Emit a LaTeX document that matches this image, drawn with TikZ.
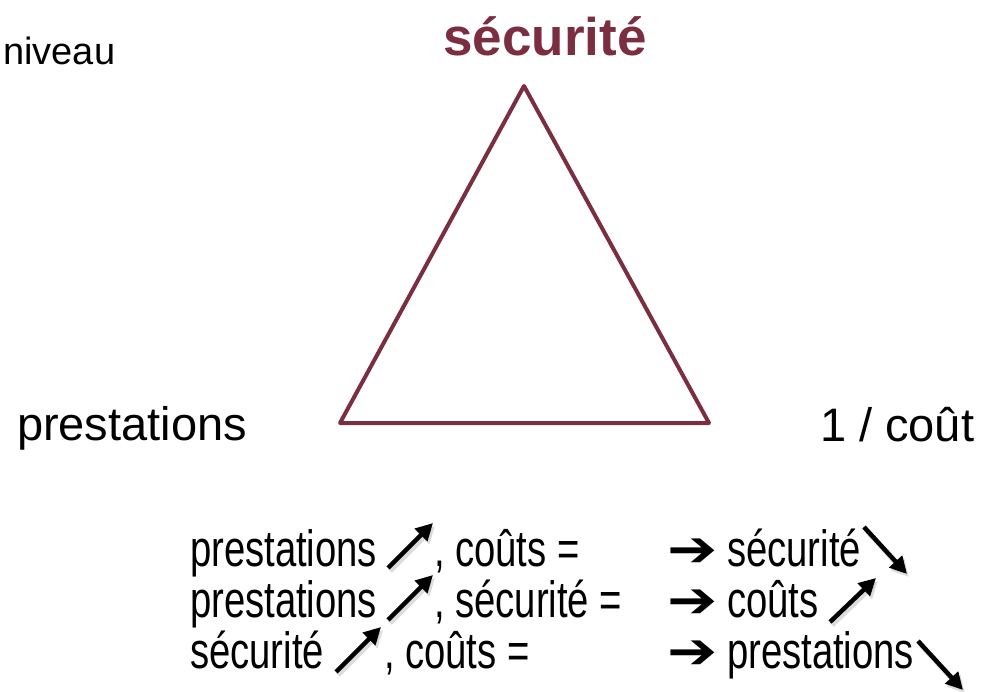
\documentclass[tikz,border=0pt]{standalone}
\usepackage{fontspec}
\setmainfont{Liberation Sans}
\newfontfamily\narrowfont[FakeStretch=0.75]{Liberation Sans}
\newfontfamily\dingfont[FakeStretch=1.2]{DejaVu Sans Bold}
\usetikzlibrary{arrows.meta}
\definecolor{maroon}{RGB}{122,46,64}
\tikzset{
  lbl/.style={inner sep=0pt, outer sep=0pt, anchor=base west, font=\fontsize{47}{54}\selectfont},
  nlbl/.style={inner sep=0pt, outer sep=0pt, anchor=base west, font=\narrowfont\fontsize{51}{54}\selectfont},
  dingl/.style={inner sep=0pt, outer sep=0pt, anchor=base west, font=\dingfont\fontsize{50}{54}\selectfont},
  trend/.style={line width=4.5pt, -{Triangle[length=17pt,width=17pt]}},
  trendshadow/.style={line width=5pt, draw=black!30, opacity=0.45, -{Triangle[length=17pt,width=17pt]}},
  tri/.style={draw=maroon, line width=4pt, line join=round}
}
\begin{document}
\begin{tikzpicture}[x=1pt,y=-1pt]
\useasboundingbox (0,0) rectangle (990,692);
% triangle
\coordinate (top) at (524,86);
\coordinate (bl) at (340,423);
\coordinate (br) at (709,423);
\draw[tri] (top) -- (bl) -- (br) -- cycle;
% corner labels
\node[inner sep=0pt, anchor=base, text=maroon, font=\bfseries\fontsize{53}{60}\selectfont] (title) at (545,56) {sécurité};
\node[inner sep=0pt, anchor=base west, font=\fontsize{38}{44}\selectfont] (niveau) at (3,65) {niveau};
\node[lbl] (prest) at (17,440) {prestations};
\node[lbl] (cout) at (820,441) {1 / coût};
% bottom lines
\node[nlbl] (l1a) at (190,566) {prestations};
\node[nlbl] (l1b) at (434,566) {, coûts =};
\node[dingl] (l1c) at (667,566) {➔};
\node[nlbl] (l1d) at (727,566) {sécurité};
\node[nlbl] (l2a) at (190,617) {prestations};
\node[nlbl] (l2b) at (434,617) {, sécurité =};
\node[dingl] (l2c) at (667,617) {➔};
\node[nlbl] (l2d) at (727,617) {coûts};
\node[nlbl] (l3a) at (190,668) {sécurité};
\node[nlbl] (l3b) at (384,668) {, coûts =};
\node[dingl] (l3c) at (667,668) {➔};
\node[nlbl] (l3d) at (727,668) {prestations};
% trend arrows
\coordinate (a1s) at (388,568); \coordinate (a1e) at (433,523);
\coordinate (a2s) at (388,620); \coordinate (a2e) at (433,575);
\coordinate (a3s) at (336,672); \coordinate (a3e) at (381,627);
\coordinate (b1s) at (864,527); \coordinate (b1e) at (907,574);
\coordinate (b2s) at (830,622); \coordinate (b2e) at (876,578);
\coordinate (b3s) at (918,641); \coordinate (b3e) at (963,690);
\foreach \s/\e in {a1s/a1e,a2s/a2e,a3s/a3e,b1s/b1e,b2s/b2e,b3s/b3e}{
  \draw[trendshadow] ([shift={(2,3)}]\s) -- ([shift={(2,3)}]\e);
  \draw[trend] (\s) -- (\e);
}
\end{tikzpicture}
\end{document}
